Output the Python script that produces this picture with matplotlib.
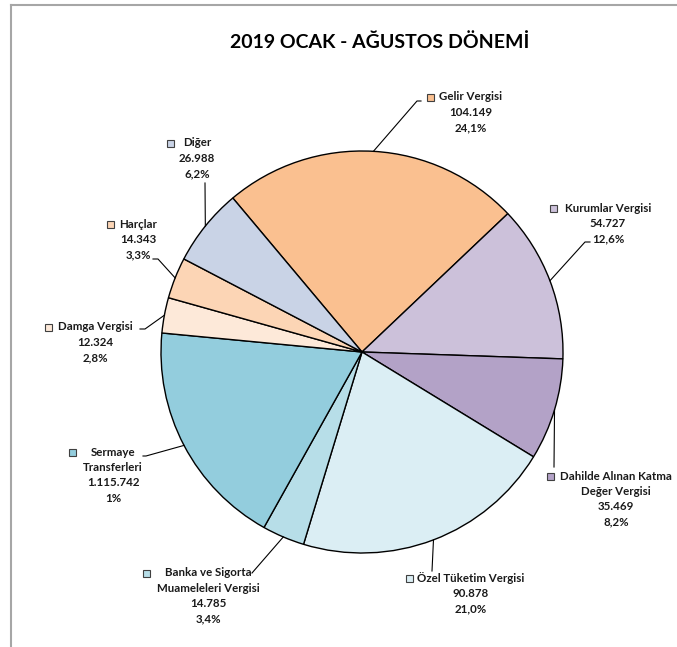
import numpy as np
import matplotlib
matplotlib.use("Agg")
import matplotlib.pyplot as plt
from matplotlib.patches import Rectangle

plt.rcParams['font.family'] = ['Lato', 'DejaVu Sans']

# data, clockwise from the top
categories = ['Gelir Vergisi', 'Kurumlar Vergisi', 'Dahilde Alınan Katma\nDeğer Vergisi',
              'Özel Tüketim Vergisi', 'Banka ve Sigorta\nMuameleleri Vergisi',
              'Sermaye\nTransferleri', 'Damga Vergisi', 'Harçlar', 'Diğer']
shown_values = ['104.149', '54.727', '35.469', '90.878', '14.785',
                '1.115.742', '12.324', '14.343', '26.988']
shown_pct = ['24,1%', '12,6%', '8,2%', '21,0%', '3,4%', '1%', '2,8%', '3,3%', '6,2%']
# slice sizes; Sermaye Transferleri (label text differs)
slice_sizes = [104149, 54727, 35469, 90878, 14785, 79750, 12324, 14343, 26988]
colors = ['#FAC090', '#CCC1DA', '#B3A2C7', '#DBEEF4', '#B7DEE8',
          '#93CDDD', '#FDE9D9', '#FCD5B5', '#C9D3E6']

W, H = 677, 647
cx0, cy0, R = 362, H - 352, 201

# label layout in pixels (y from top): text centre x, first line y, key x, elbow points
label_pos = [
    (471, 97, 430, [(417, 101), (421, 101)]),
    (608, 208, 553, [(585, 242), (590, 242)]),
    (616, 476, 550, [(554, 467)]),
    (471, 578, 409, [(432, 571)]),
    (208, 573, 146, [(252, 573)]),
    (113, 452, 72, [(146, 456), (143, 456)]),
    (95, 327, 48, [(145, 329), (140, 329)]),
    (138, 224, 110, [(158, 259), (153, 259)]),
    (197, 143, 170, [(205, 183)]),
]

fig = plt.figure(figsize=(W / 100, H / 100), dpi=100)
ax = fig.add_axes([0, 0, 1, 1])

wedges, _ = ax.pie(slice_sizes, colors=colors, startangle=130, counterclock=False,
                   center=(cx0, cy0), radius=R,
                   wedgeprops=dict(edgecolor='black', linewidth=1.0))
ax.set_xlim(0, W)
ax.set_ylim(0, H)
ax.set_aspect('equal')
ax.axis('off')

fig.canvas.draw()
rend = fig.canvas.get_renderer()
step = 15.4
for w, name, val, pct, (tx, ty, kx, elbow), col in zip(
        wedges, categories, shown_values, shown_pct, label_pos, colors):
    lines = name.split('\n') + [val, pct]
    for i, s in enumerate(lines):
        ax.text(tx, H - (ty + i * step), s, ha='center', va='center',
                fontsize=8.3, fontweight='bold', color='#1a1a1a')
    ax.add_patch(Rectangle((kx - 3.5, H - ty - 3.5), 7, 7, facecolor=col,
                           edgecolor='#404040', linewidth=0.8))
    mid = np.radians((w.theta1 + w.theta2) / 2)
    xs = [cx0 + R * np.cos(mid)] + [p[0] for p in elbow]
    ys = [cy0 + R * np.sin(mid)] + [H - p[1] for p in elbow]
    ax.plot(xs, ys, color='black', linewidth=0.8)

ax.text(380, H - 42, '2019 OCAK - AĞUSTOS DÖNEMİ', ha='center', va='center',
        fontsize=14, fontweight='bold', color='black')

# chart frame (top and left edges visible)
ax.plot([11, W], [H - 5, H - 5], color='#A6A6A6', linewidth=1.5)
ax.plot([11, 11], [H - 5, 0], color='#A6A6A6', linewidth=1.5)

fig.savefig('out.png', dpi=100)
